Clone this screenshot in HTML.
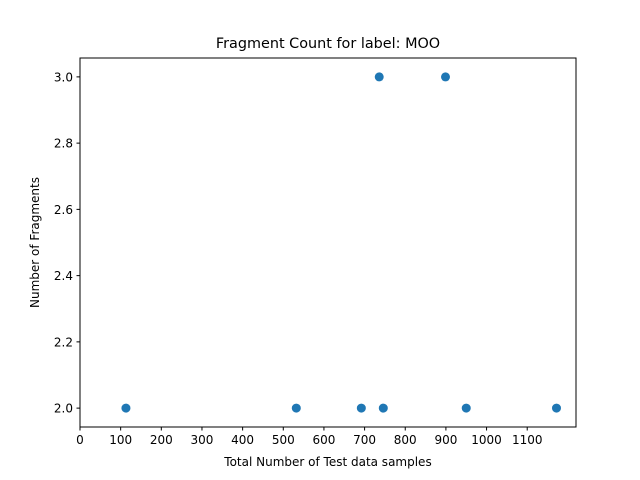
<!DOCTYPE html>
<html><head><meta charset="utf-8"><style>body{margin:0;background:#fff}svg{display:block;font-family:"DejaVu Sans","Liberation Sans",sans-serif}</style></head>
<body>
<svg id="chart" width="640" height="480">
<rect width="640" height="480" fill="#fff"/>
<text x="328" y="48" font-size="14.4" text-anchor="middle">Fragment Count for label: MOO</text>
<text x="328" y="466" font-size="12" text-anchor="middle">Total Number of Test data samples</text>
<text transform="translate(39,242.5) rotate(-90)" font-size="12" text-anchor="middle">Number of Fragments</text>
<g id="ticks"></g><g id="points"></g>
<rect x="80" y="58" width="496" height="369" fill="none" stroke="#000" stroke-width="1"/>
</svg>
<script>
const xValues=[113,532,692,746,950,1172,736,899];
const yValues=[2,2,2,2,2,2,3,3];
const xTicks=[0,100,200,300,400,500,600,700,800,900,1000,1100];
const yTicks=[2.0,2.2,2.4,2.6,2.8,3.0];
const NS="http://www.w3.org/2000/svg";
const L=80,R=576,T=58,B=427,xMin=0,xMax=1220,yMin=1.943,yMax=3.057;
const sx=v=>L+(v-xMin)/(xMax-xMin)*(R-L);
const sy=v=>B-(v-yMin)/(yMax-yMin)*(B-T);
function mk(t,a,p){const e=document.createElementNS(NS,t);for(const k in a)e.setAttribute(k,a[k]);p.appendChild(e);return e;}
const tg=document.getElementById('ticks'),pg=document.getElementById('points');
xTicks.forEach(v=>{const x=sx(v);
const l=mk('line',{x1:x,x2:x,y1:B,y2:B+3.5,stroke:'#000'},tg);


const t=mk('text',{x:x,y:B+17,'font-size':12,'text-anchor':'middle'},tg);t.textContent=v;

});
yTicks.forEach(v=>{const y=sy(v);
const l=mk('line',{x1:L-3.5,x2:L,y1:y,y2:y,stroke:'#000'},tg);


const t=mk('text',{x:L-7,y:y+4.5,'font-size':12,'text-anchor':'end'},tg);t.textContent=v.toFixed(1);

});
xValues.forEach((v,i)=>{const c=mk('circle',{cx:sx(v),cy:sy(yValues[i]),r:4.5,fill:'#1f77b4'},pg);

});
</script>
</body></html>
